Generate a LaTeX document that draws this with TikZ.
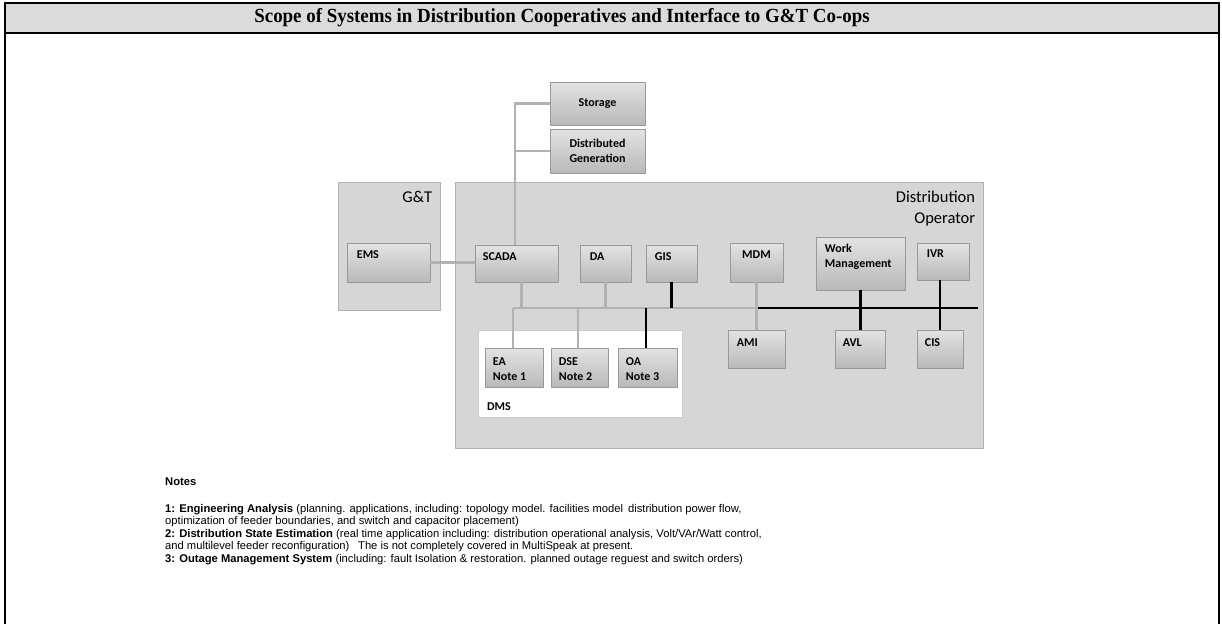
\documentclass[tikz,border=0pt]{standalone}
\usepackage{fontspec}
\usepackage{graphicx}
\setmainfont{Liberation Serif}
\newfontfamily\calfont{Carlito}
\newfontfamily\arialfont{Liberation Sans}
\usetikzlibrary{shadows}
\begin{document}
\begin{tikzpicture}[x=1pt,y=-1pt,
  container/.style={draw=gray!60, fill=gray!32, line width=0.6pt, inner sep=0pt},
  sysbox/.style={draw=gray!80, top color=gray!22, bottom color=gray!55, line width=0.6pt,
    drop shadow={shadow xshift=1.2pt, shadow yshift=-1.2pt, fill=gray!80},
    font=\calfont\bfseries\fontsize{12}{15.5}\selectfont, inner sep=0pt, align=center},
  lblnw/.style={anchor=north west, inner sep=0pt, align=left,
    font=\calfont\bfseries\fontsize{12}{15}\selectfont},
  tl/.style={label={[lblnw, xshift=8pt, yshift=-8pt]north west:#1}},
  biglbl/.style={anchor=north east, inner sep=0pt, align=right, xshift=-8pt, yshift=-9pt,
    font=\calfont\fontsize{16.5}{21}\selectfont},
  glink/.style={draw=gray!60, line width=2.6pt},
  blink/.style={draw=black, line width=2.6pt}
]
\useasboundingbox (0,0) rectangle (1222,624);

% frame and title bar
\fill[gray!28] (5,3) rectangle (1219,33);
\draw[line width=2pt] (5,3) -- (1219,3);
\draw[line width=2pt] (5,33) -- (1219,33);
\draw[line width=1.4pt] (5,2) -- (5,624);
\draw[line width=1.2pt] (1219,2) -- (1219,624);
\node[font=\bfseries\fontsize{20}{24}\selectfont, inner sep=0pt] (title) at (562,18)
  {\scalebox{0.945}[1]{Scope of Systems in Distribution Cooperatives and Interface to G\&T Co-ops}};

% containers
\node[container, minimum width=102pt, minimum height=128pt,
  label={[biglbl]north east:G\&T}] (gt) at (389,246) {};
\node[container, minimum width=528pt, minimum height=266pt,
  label={[biglbl]north east:Distribution\\Operator}] (do) at (719,315) {};
\node[draw=gray!40, fill=white, minimum width=204pt, minimum height=87pt, inner sep=0pt,
  label={[lblnw, anchor=south west, xshift=9pt, yshift=6pt]south west:DMS}] (dms) at (580,373.5) {};

% systems
\node[sysbox, minimum width=95pt, minimum height=43pt] (storage) at (597.5,103.5) {Storage};
\node[sysbox, minimum width=95pt, minimum height=44pt] (dg) at (597.5,151) {Distributed\\Generation};
\node[sysbox, minimum width=83pt, minimum height=39pt, label={[lblnw, xshift=10pt, yshift=-8pt]north west:EMS}] (ems) at (388.5,262.5) {};
\node[sysbox, minimum width=83pt, minimum height=37pt, tl=SCADA] (scada) at (516.5,263.5) {};
\node[sysbox, minimum width=51pt, minimum height=37pt, label={[lblnw, xshift=10pt, yshift=-8pt]north west:DA}] (da) at (605.5,263.5) {};
\node[sysbox, minimum width=51pt, minimum height=37pt, label={[lblnw, xshift=9pt, yshift=-8pt]north west:GIS}] (gis) at (671.5,263.5) {};
\node[sysbox, minimum width=53pt, minimum height=39pt, label={[lblnw, anchor=north, yshift=-8pt]north:MDM}] (mdm) at (756.5,262.5) {};
\node[sysbox, minimum width=89pt, minimum height=53pt, label={[lblnw, xshift=9pt, yshift=-7pt]north west:Work\\Management}] (wm) at (860.5,263.5) {};
\node[sysbox, minimum width=52pt, minimum height=37pt, label={[lblnw, xshift=10pt, yshift=-7pt]north west:IVR}] (ivr) at (943,261.5) {};
\node[sysbox, minimum width=57pt, minimum height=38pt, label={[lblnw, xshift=9pt, yshift=-9pt]north west:AMI}] (ami) at (756.5,349) {};
\node[sysbox, minimum width=50pt, minimum height=38pt, label={[lblnw, xshift=8pt, yshift=-9pt]north west:AVL}] (avl) at (860,349) {};
\node[sysbox, minimum width=46pt, minimum height=38pt, label={[lblnw, xshift=8pt, yshift=-9pt]north west:CIS}] (cis) at (940,349) {};
\node[sysbox, minimum width=58pt, minimum height=39pt, label={[lblnw, xshift=8pt, yshift=-10pt]north west:EA\\Note 1}] (ea) at (514,367.5) {};
\node[sysbox, minimum width=57pt, minimum height=39pt, label={[lblnw, xshift=8pt, yshift=-10pt]north west:DSE\\Note 2}] (dse) at (579.5,367.5) {};
\node[sysbox, minimum width=59pt, minimum height=39pt, label={[lblnw, xshift=8pt, yshift=-10pt]north west:OA\\Note 3}] (oa) at (647.5,367.5) {};

% connectors
\coordinate (trunk) at (515,0);
\coordinate (busL) at (513,308);
\coordinate (busM) at (758,308);
\coordinate (busR) at (978,308);

\draw[glink] (storage.west) -- (storage.west -| trunk) -- (scada.north -| trunk);
\draw[glink] (dg.west) -- (dg.west -| trunk);
\draw[glink] (ems.east) -- (ems.east -| scada.west);
\draw[glink] (busL) -- (busM);
\draw[blink] (busM) -- (busR);
\draw[glink] ([xshift=5pt]scada.south) -- ([xshift=5pt]scada.south |- busL);
\draw[glink] (da.south) -- (da.south |- busL);
\draw[blink] (gis.south) -- (gis.south |- busL);
\draw[glink] (mdm.south) -- (ami.north);
\draw[blink] (wm.south) -- (wm.south |- avl.north);
\draw[blink] (cis.north |- ivr.south) -- (cis.north);
\draw[glink] (busL) -- (busL |- ea.north);
\draw[glink] ([xshift=-1.5pt]dse.north |- busL) -- ([xshift=-1.5pt]dse.north);
\draw[blink] ([xshift=-1.5pt]oa.north |- busL) -- ([xshift=-1.5pt]oa.north);

% notes
\node[anchor=west, inner sep=0pt, font=\arialfont\bfseries\fontsize{11.2}{12.5}\selectfont] (notes) at (165,482) {Notes};
\node[anchor=north west, inner sep=0pt, align=left, font=\arialfont\fontsize{11.2}{12.5}\selectfont] (notetext) at (165,504)
{\textbf{1: Engineering Analysis} (planning. applications, including: topology model. facilities model\, distribution power flow,\\
optimization of feeder boundaries, and switch and capacitor placement)\\
\textbf{2: Distribution State Estimation} (real time application including: distribution operational analysis, Volt/VAr/Watt control,\\
and multilevel feeder reconfiguration)\enspace\ The is not completely covered in MultiSpeak at present.\\
\textbf{3: Outage Management System} (including: fault Isolation \& restoration. planned outage reguest and switch orders)};
\end{tikzpicture}
\end{document}
